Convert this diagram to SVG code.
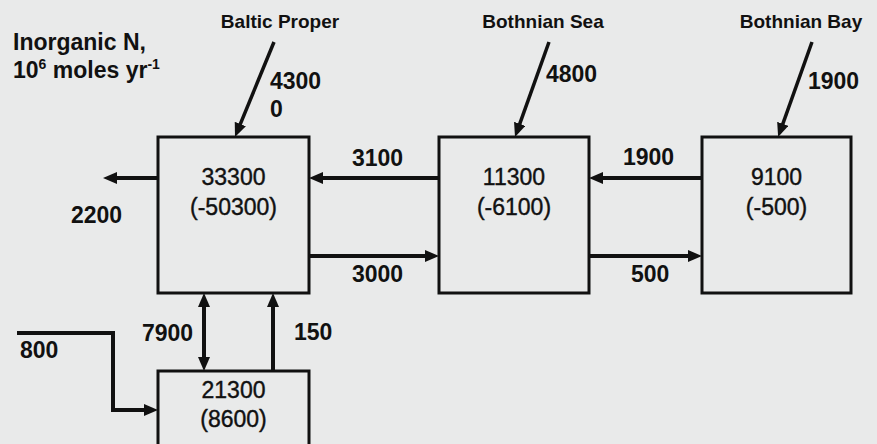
<svg xmlns="http://www.w3.org/2000/svg" width="877" height="444" viewBox="0 0 877 444">
<defs>
<marker id="ah" markerUnits="userSpaceOnUse" markerWidth="14" markerHeight="12" viewBox="0 0 14 12" refX="9" refY="6" orient="auto-start-reverse">
<path d="M0,0 L14,6 L0,12 z" fill="#111"/>
</marker>
<style>
.bg{fill:#e9eaea}
.box{fill:none;stroke:#111;stroke-width:3}
.ln{fill:none;stroke:#111;stroke-width:4}
.dg{fill:none;stroke:#111;stroke-width:3.5}
.bt{font-family:"Liberation Sans",Arial,sans-serif;font-size:23px;fill:#111;stroke:#111;stroke-width:0.4;text-anchor:middle}
.lb{font-family:"Liberation Sans",Arial,sans-serif;font-size:23px;font-weight:bold;fill:#111}
.rg{font-family:"Liberation Sans",Arial,sans-serif;font-size:19px;font-weight:bold;fill:#111;text-anchor:middle}
</style>
</defs>
<rect class="bg" x="0" y="0" width="877" height="444"/>

<g id="title">
<text class="lb" x="13" y="50">Inorganic N,</text>
<text class="lb" x="13" y="78">10<tspan font-size="14" dy="-9">6</tspan><tspan dy="9"> moles yr</tspan><tspan font-size="14" dy="-9">-1</tspan></text>
</g>

<g id="node-baltic-proper">
<rect class="box" x="158" y="137" width="151" height="156"/>
<text class="bt" x="233.5" y="185">33300</text>
<text class="bt" x="233.5" y="215">(-50300)</text>
</g>
<g id="node-bothnian-sea">
<rect class="box" x="439" y="137" width="150" height="156"/>
<text class="bt" x="514" y="185">11300</text>
<text class="bt" x="514" y="215">(-6100)</text>
</g>
<g id="node-bothnian-bay">
<rect class="box" x="702" y="137" width="149" height="156"/>
<text class="bt" x="776.5" y="185">9100</text>
<text class="bt" x="776.5" y="215">(-500)</text>
</g>
<g id="node-deep">
<rect class="box" x="158" y="371" width="151" height="100"/>
<text class="bt" x="233.5" y="398">21300</text>
<text class="bt" x="233.5" y="427">(8600)</text>
</g>

<g id="region-labels">
<text class="rg" x="280" y="28">Baltic Proper</text>
<text class="rg" x="543" y="28">Bothnian Sea</text>
<text class="rg" x="801" y="28">Bothnian Bay</text>
</g>

<g id="connectors">
<path class="dg" d="M274,42 L236.9,132.4" marker-end="url(#ah)"/>
<path class="dg" d="M549,42 L516.7,132.3" marker-end="url(#ah)"/>
<path class="dg" d="M812,42 L779.8,132.3" marker-end="url(#ah)"/>
<path class="ln" d="M158,178 H108" marker-end="url(#ah)"/>
<path class="ln" d="M439,178 H314" marker-end="url(#ah)"/>
<path class="ln" d="M309,256 H434" marker-end="url(#ah)"/>
<path class="ln" d="M702,178 H594" marker-end="url(#ah)"/>
<path class="ln" d="M589,256 H697" marker-end="url(#ah)"/>
<path class="ln" d="M204,298 V366" marker-start="url(#ah)" marker-end="url(#ah)"/>
<path class="ln" d="M273,371 V298" marker-end="url(#ah)"/>
<path class="ln" d="M17,333 H113 V410 H153" marker-end="url(#ah)"/>
</g>

<g id="connector-labels">
<text class="lb" x="270" y="89">4300</text>
<text class="lb" x="270" y="117">0</text>
<text class="lb" x="546" y="82">4800</text>
<text class="lb" x="808" y="89">1900</text>
<text class="lb" x="71" y="223">2200</text>
<text class="lb" x="352" y="166">3100</text>
<text class="lb" x="352" y="282">3000</text>
<text class="lb" x="623" y="165">1900</text>
<text class="lb" x="631" y="282">500</text>
<text class="lb" x="142" y="341">7900</text>
<text class="lb" x="294" y="340">150</text>
<text class="lb" x="20" y="358">800</text>
</g>
</svg>
